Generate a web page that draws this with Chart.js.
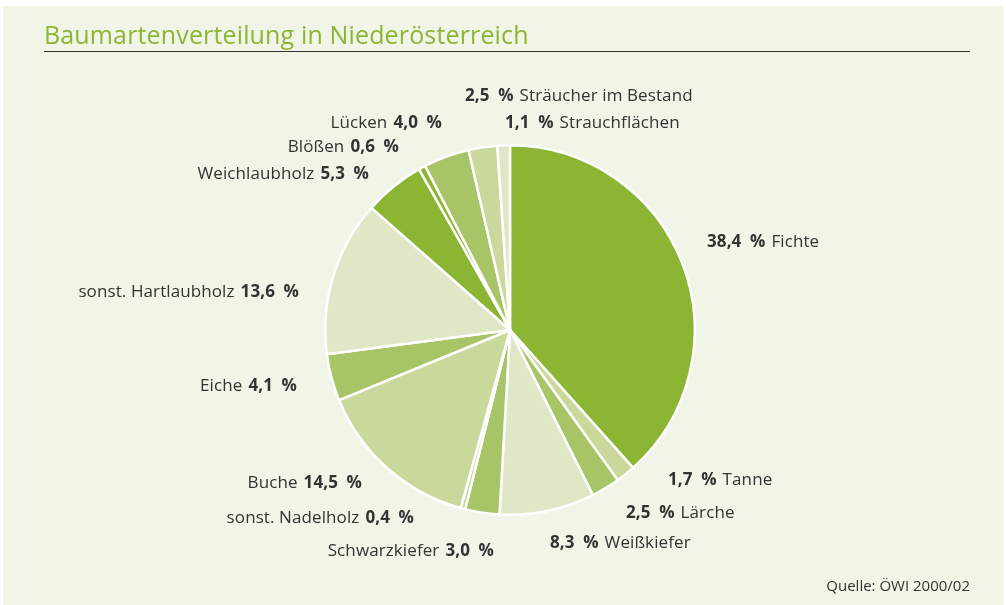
<!DOCTYPE html>
<html>
<head>
<meta charset="utf-8">
<script src="https://cdn.jsdelivr.net/npm/chart.js@4.4.0/dist/chart.umd.min.js"></script>
<style>
  html, body { margin: 0; padding: 0; background: #ffffff; }
  canvas { display: block; }
</style>
</head>
<body>
<canvas id="pie" width="1006" height="605"></canvas>
<script>
// Baumarten, im Uhrzeigersinn ab 12 Uhr
const categories = ['Fichte', 'Tanne', 'Lärche', 'Weißkiefer', 'Schwarzkiefer', 'sonst. Nadelholz',
  'Buche', 'Eiche', 'sonst. Hartlaubholz', 'Weichlaubholz', 'Blößen', 'Lücken',
  'Sträucher im Bestand', 'Strauchflächen'];
const shares = [38.4, 1.7, 2.5, 8.3, 3.0, 0.4, 14.5, 4.1, 13.6, 5.3, 0.6, 4.0, 2.5, 1.1];

const DARK = '#8db534', MID = '#a7c466', LIGHT = '#c9d89b', PALE = '#dfe8c6';
const sliceColors = [DARK, LIGHT, MID, PALE, MID, LIGHT, LIGHT, MID, PALE, DARK, DARK, MID, LIGHT, PALE];

// where each label goes: x, y, and whether the value comes first (left side start) or last
const labelLayout = [
  { x: 707, y: 242, valueFirst: true },
  { x: 668, y: 480, valueFirst: true },
  { x: 626, y: 513, valueFirst: true },
  { x: 550, y: 543, valueFirst: true },
  { x: 494, y: 551, valueFirst: false },
  { x: 414, y: 518, valueFirst: false },
  { x: 362, y: 483, valueFirst: false },
  { x: 297, y: 386, valueFirst: false },
  { x: 299, y: 292, valueFirst: false },
  { x: 369, y: 174, valueFirst: false },
  { x: 399, y: 147, valueFirst: false },
  { x: 442, y: 123, valueFirst: false },
  { x: 465, y: 96, valueFirst: true },
  { x: 505, y: 123, valueFirst: true }
];

const FONT = '"Open Sans", "Noto Sans", sans-serif';

function fmt(v) {
  return v.toFixed(1).replace('.', ',') + '\u2002%';
}

const decor = {
  id: 'decor',
  beforeDraw(chart) {
    const ctx = chart.ctx;
    ctx.save();
    ctx.fillStyle = '#f1f5e7';
    ctx.fillRect(3, 6, 1000, 599);
    // title
    ctx.fillStyle = '#8db534';
    ctx.font = '25px ' + FONT;
    ctx.letterSpacing = '0.15px';
    ctx.textBaseline = 'alphabetic';
    ctx.fillText('Baumartenverteilung in Niederösterreich', 44, 44);
    ctx.strokeStyle = '#333333';
    ctx.lineWidth = 1;
    ctx.beginPath();
    ctx.moveTo(44, 51.5);
    ctx.lineTo(970, 51.5);
    ctx.stroke();
    ctx.restore();
  },
  afterDraw(chart) {
    const ctx = chart.ctx;
    ctx.save();
    ctx.fillStyle = '#333333';
    ctx.textBaseline = 'middle';
    ctx.letterSpacing = '0.1px';
    const normal = '17px ' + FONT;
    const bold = 'bold 17px ' + FONT;
    chart.data.labels.forEach((name, i) => {
      const pos = labelLayout[i];
      const val = fmt(chart.data.datasets[0].data[i]);
      if (pos.valueFirst) {
        ctx.font = bold;
        ctx.textAlign = 'left';
        ctx.fillText(val, pos.x, pos.y);
        const w = ctx.measureText(val).width + 6;
        ctx.font = normal;
        ctx.fillText(name, pos.x + w, pos.y);
      } else {
        ctx.font = bold;
        ctx.textAlign = 'right';
        ctx.fillText(val, pos.x, pos.y);
        const w = ctx.measureText(val).width + 6;
        ctx.font = normal;
        ctx.fillText(name, pos.x - w, pos.y);
      }
    });
    ctx.font = '15px ' + FONT;
    ctx.letterSpacing = '0px';
    ctx.textAlign = 'right';
    ctx.fillText('Quelle: ÖWI 2000/02', 970, 587);
    ctx.restore();
  }
};

new Chart(document.getElementById('pie'), {
  type: 'pie',
  data: {
    labels: categories,
    datasets: [{
      data: shares,
      backgroundColor: sliceColors,
      borderColor: '#ffffff',
      borderWidth: 2.5
    }]
  },
  options: {
    responsive: false,
    animation: false,
    layout: { padding: { left: 324, right: 310, top: 144, bottom: 89 } },
    plugins: {
      legend: { display: false },
      tooltip: { enabled: false },
      title: { display: false }
    }
  },
  plugins: [decor]
});
</script>
</body>
</html>
